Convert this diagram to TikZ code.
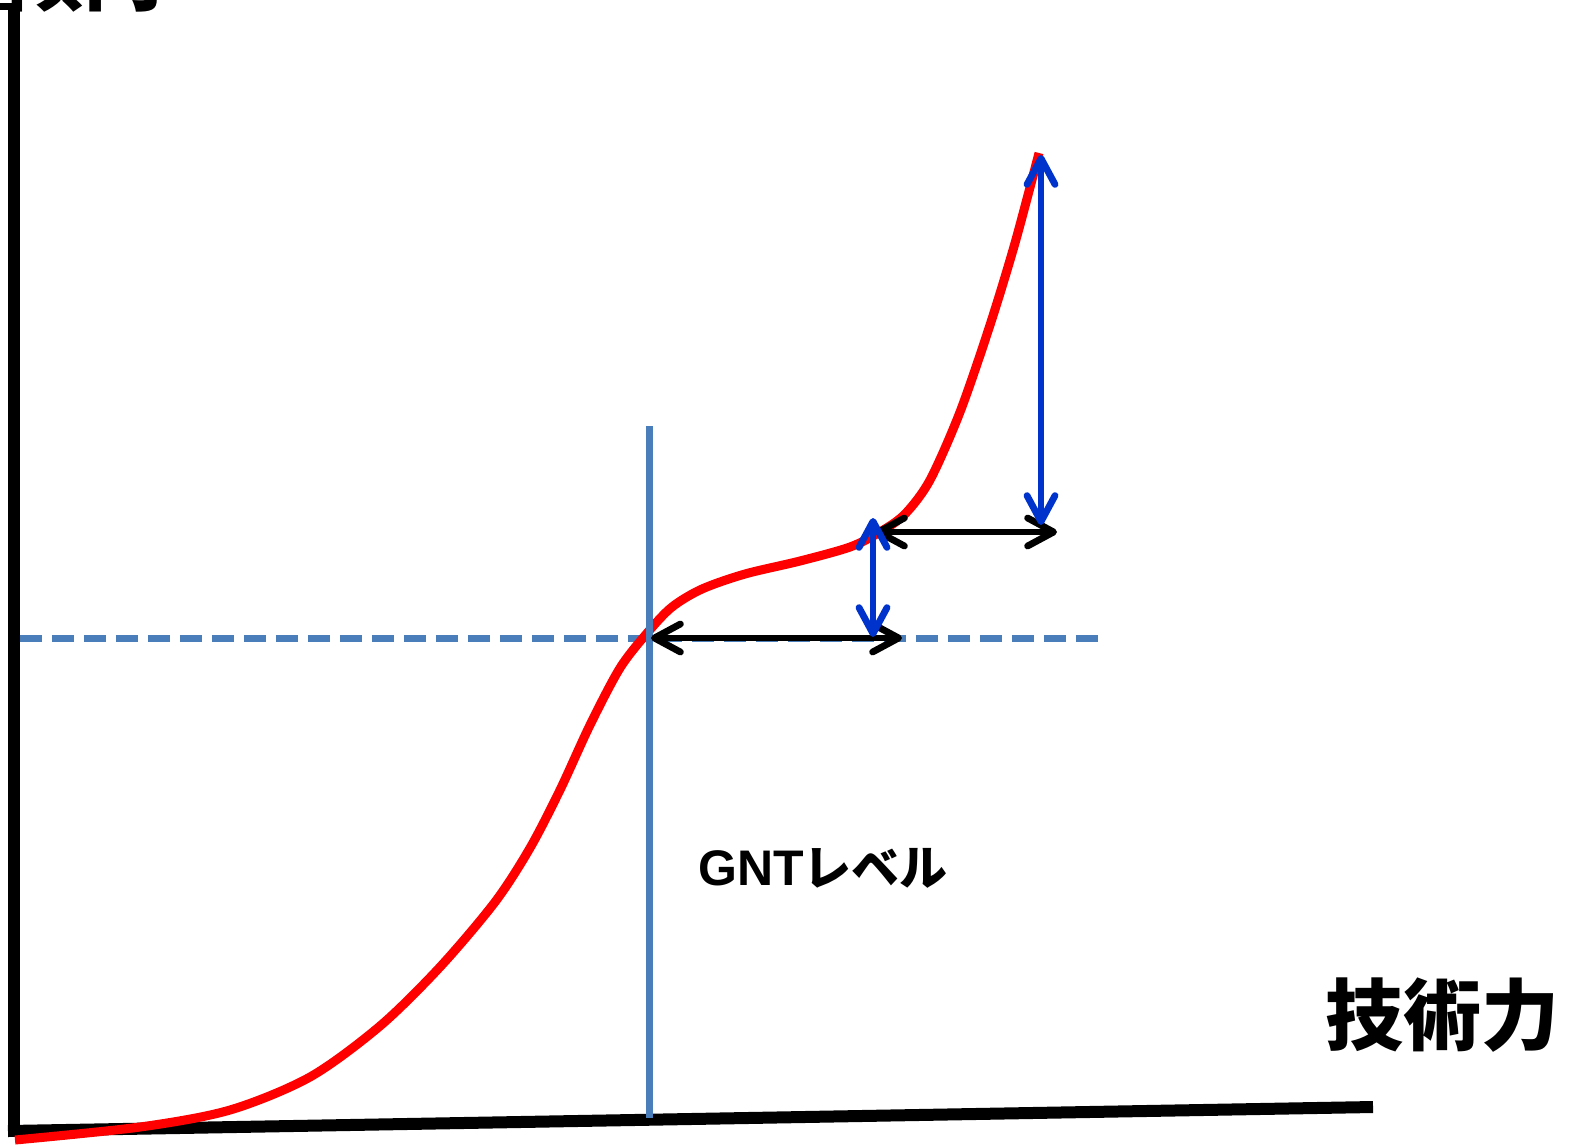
\documentclass[tikz,border=0pt]{standalone}
\usepackage{fontspec}
\setmainfont{Liberation Sans}
\newfontfamily\jp{Noto Sans CJK JP}
\usetikzlibrary{arrows.meta}
\definecolor{axisblue}{RGB}{74,126,187}
\definecolor{arrblue}{RGB}{0,51,204}
\begin{document}
\begin{tikzpicture}[x=0.5pt,y=-0.5pt,
  tipb/.tip={Straight Barb[length=13pt,width=14pt,line cap=round,line join=round]},
  dbl/.style={line width=3.4pt, line cap=round, tipb-tipb},
  axisline/.style={line width=6pt, black},
  curve/.style={line width=4.5pt, red, line join=round}]
\useasboundingbox (0,0) rectangle (1582,1145);
\clip (0,0) rectangle (1582,1145);
% coordinates
\coordinate (ytop) at (14,4);
\coordinate (ybot) at (14,1137);
\coordinate (xleft) at (8,1131);
\coordinate (xright) at (1373,1107);
\coordinate (vtop) at (649,426);
\coordinate (vbot) at (649,1118);
\coordinate (dl) at (20,638);
\coordinate (dr) at (1102,638);
\coordinate (a1l) at (651,638);
\coordinate (a1r) at (902,638);
\coordinate (a2l) at (875,532);
\coordinate (a2r) at (1057,532);
\coordinate (b1t) at (873,518);
\coordinate (b1b) at (873,637);
\coordinate (b2t) at (1041,155);
\coordinate (b2b) at (1041,525);
% axes
\draw[axisline] (ybot) -- (ytop);
\fill (0,3) rectangle (14,10);
\draw[axisline] (xleft) -- (xright);
% dashed level
\draw[axisblue, line width=3.5pt, dash pattern=on 11pt off 5pt] (dl) -- (dr);
% red curve
\draw[curve] plot[smooth, tension=0.5] coordinates {
 (15,1140) (140,1127) (230,1110) (310,1077) (380,1026) (440,967)
 (495,902) (530,848) (560,790) (590,725) (620,668) (648,632)
 (672,607) (702,589) (745,574) (800,561) (850,547) (880,532) (905,514)
 (930,480) (960,412) (990,325) (1015,243) (1039,153)};
% vertical blue
\draw[axisblue, line width=3.5pt] (vtop) -- (vbot);
% arrows
\draw[dbl, black] (a1l) -- (a1r);
\draw[dbl, black] (a2l) -- (a2r);
\draw[dbl, arrblue] (b1t) -- (b1b);
\draw[dbl, arrblue] (b2t) -- (b2b);
% texts
\node[anchor=base west, inner sep=0, font=\jp\bfseries\fontsize{40pt}{40pt}\selectfont] (ylab) at (3,5) {傾向};
\node[inner sep=0, font=\jp\bfseries\fontsize{39pt}{39pt}\selectfont] (xlab) at (1442,1015) {技術力};
\node[anchor=base west, inner sep=0, font=\bfseries\fontsize{25pt}{25pt}\selectfont] (gnt) at (698,885) {GNT{\jp\fontsize{24pt}{24pt}\selectfont レベル}};
\end{tikzpicture}
\end{document}
